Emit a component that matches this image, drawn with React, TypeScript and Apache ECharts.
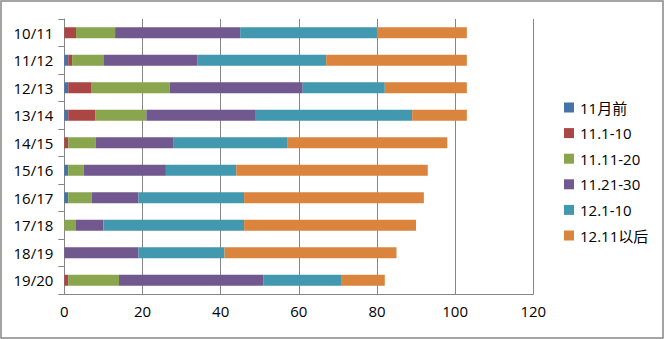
import React, { useEffect, useRef } from "react";
import * as echarts from "echarts";

const categories = ["10/11", "11/12", "12/13", "13/14", "14/15", "15/16", "16/17", "17/18", "18/19", "19/20"];
const seriesNames = ["11月前", "11.1-10", "11.11-20", "11.21-30", "12.1-10", "12.11以后"];
const before11 = [0, 1, 1, 1, 0, 1, 1, 0, 0, 0];
const nov1to10 = [3, 1, 6, 7, 1, 0, 0, 0, 0, 1];
const nov11to20 = [10, 8, 20, 13, 7, 4, 6, 3, 0, 13];
const nov21to30 = [32, 24, 34, 28, 20, 21, 12, 7, 19, 37];
const dec1to10 = [35, 33, 21, 40, 29, 18, 27, 36, 22, 20];
const after1211 = [23, 36, 21, 14, 41, 49, 46, 44, 44, 11];
const xTicks = { min: 0, max: 120, interval: 20 };

const colors = ["#4572A7", "#AA4643", "#89A54E", "#71588F", "#4198AF", "#DB843D"];
const FONT = "'Open Sans', 'Noto Sans CJK SC', sans-serif";

export default function App() {
  const ref = useRef<HTMLDivElement>(null);
  useEffect(() => {
    if (!ref.current) return;
    const chart = echarts.init(ref.current, null, { renderer: "svg" });
    const data = [before11, nov1to10, nov11to20, nov21to30, dec1to10, after1211];
    chart.setOption({
      animation: false,
      color: colors,
      textStyle: { fontFamily: FONT },
      grid: { left: 64.3, right: 130.7, top: 19, bottom: 45, containLabel: false },
      legend: {
        orient: "vertical",
        left: 559,
        top: 95,
        itemWidth: 10,
        itemHeight: 10,
        itemGap: 10.6,
        icon: "rect",
        textStyle: { fontSize: 15, color: "#000", fontFamily: FONT, lineHeight: 15, padding: [0, 0, 0, 1] },
        data: seriesNames,
      },
      xAxis: {
        type: "value",
        min: xTicks.min,
        max: xTicks.max,
        interval: xTicks.interval,
        axisLine: { show: true, lineStyle: { color: "#868686", width: 1 } },
        axisTick: { show: false },
        axisLabel: { fontSize: 15, color: "#000", margin: 9, fontFamily: FONT },
        splitLine: { show: true, lineStyle: { color: "#868686", width: 1 } },
      },
      yAxis: {
        type: "category",
        inverse: true,
        data: categories,
        axisLine: { show: true, lineStyle: { color: "#868686", width: 1 } },
        axisTick: { show: true, length: 6, lineStyle: { color: "#868686" } },
        axisLabel: { fontSize: 15, color: "#000", margin: 11, fontFamily: FONT },
      },
      series: seriesNames.map((name, i) => ({
        name,
        type: "bar",
        stack: "total",
        barWidth: 11,
        data: data[i],
        itemStyle: { color: colors[i] },
      })),
      graphic: [
        {
          type: "rect",
          shape: { x: 1, y: 1, width: 662, height: 337 },
          style: { fill: "none", stroke: "#868686", lineWidth: 1.5 },
          silent: true,
        },
      ],
    });
    return () => chart.dispose();
  }, []);
  return (
    <div
      ref={ref}
      style={{ position: "fixed", left: 0, top: 0, width: 664, height: 339, background: "#fff" }}
    />
  );
}
